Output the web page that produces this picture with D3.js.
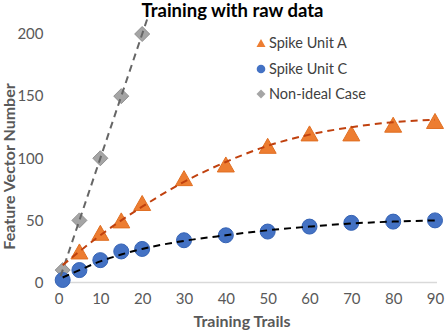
<!DOCTYPE html>
<html><head><meta charset="utf-8">
<script src="https://cdn.jsdelivr.net/npm/d3@7"></script>
<style>body{margin:0;background:#fff}svg text{font-family:Lato,"Open Sans",sans-serif}</style>
</head><body><svg id="c" width="447" height="333"></svg>
<script>
const xTicks = [0, 10, 20, 30, 40, 50, 60, 70, 80, 90];
const yTicks = [0, 50, 100, 150, 200];
const seriesNames = ["Spike Unit A", "Spike Unit C", "Non-ideal Case"];
const unitA_x = [5, 10, 15, 20, 30, 40, 50, 60, 70, 80, 90];
const unitA_y = [25, 40, 50, 64, 84, 95, 110, 120, 120, 127, 130];
const unitC_x = [1, 5, 10, 15, 20, 30, 40, 50, 60, 70, 80, 90];
const unitC_y = [2, 10, 18, 25, 27, 34, 38, 41, 45, 48, 49, 50];
const nonIdeal_x = [1, 5, 10, 15, 20];
const nonIdeal_y = [10, 50, 100, 150, 200];
// trendlines
const trendA_x = [1, 5, 10, 15, 20, 30, 40, 50, 60, 70, 80, 90];
const trendA_y = [14, 25, 38, 50, 61, 81, 97, 110, 119, 125, 129, 131];
const trendC_x = [1, 5, 10, 15, 20, 30, 40, 50, 60, 70, 80, 90];
const trendC_y = [4, 10, 17, 22.5, 27, 33.5, 38, 42, 45, 47.5, 49, 50];
const trendN_x = [0.5, 21.5];
const trendN_y = [5, 215];

const svg = d3.select("#c");
const x = d3.scaleLinear().domain([0, 90]).range([58.5, 435]);
const y = d3.scaleLinear().domain([0, 200]).range([282.5, 34]);
const zip = (a, b) => a.map((v, i) => [v, b[i]]);

// x axis
const xa = svg.append("g").attr("transform", "translate(0,282.5)")
  .call(d3.axisBottom(x).tickValues(xTicks).tickSize(0).tickPadding(11));
xa.select(".domain").attr("stroke", "#d9d9d9").attr("stroke-width", 1.5)
  .attr("d", `M${x(0) - 3},0H${x(90) + 2}`);
xa.selectAll("text").attr("fill", "#595959").attr("font-size", 15).style("font-family", "Lato");

const ya = svg.append("g").attr("transform", "translate(43.5,0)")
  .call(d3.axisLeft(y).tickValues(yTicks).tickSize(0).tickPadding(0));
ya.select(".domain").remove();
ya.selectAll("text").attr("fill", "#595959").attr("font-size", 15).style("font-family", "Lato");

// titles
svg.append("text").attr("x", 232.5).attr("y", 16.5).attr("text-anchor", "middle")
  .attr("font-size", 18.5).attr("font-weight", "bold").attr("fill", "#000").text("Training with raw data");
svg.append("text").attr("x", 242).attr("y", 327).attr("text-anchor", "middle")
  .attr("font-size", 16).attr("font-weight", "bold").attr("fill", "#595959").text("Training Trails");
svg.append("text").attr("transform", "translate(15,166.5) rotate(-90)").attr("text-anchor", "middle")
  .attr("font-size", 16).attr("font-weight", "bold").attr("fill", "#595959").text("Feature Vector Number");

const tri = (w, h) => `M0,${-h / 2}L${w / 2},${h / 2}L${-w / 2},${h / 2}Z`;
const dia = s => `M0,${-s}L${s},0L0,${s}L${-s},0Z`;

// markers
svg.append("g").selectAll("path").data(zip(nonIdeal_x, nonIdeal_y)).join("path")
  .attr("transform", d => `translate(${x(d[0])},${y(d[1])})`).attr("d", dia(7.5))
  .attr("fill", "#a5a5a5").attr("stroke", "#909090").attr("stroke-width", 1);
svg.append("g").selectAll("path").data(zip(unitA_x, unitA_y)).join("path")
  .attr("transform", d => `translate(${x(d[0])},${y(d[1])})`).attr("d", tri(17, 15))
  .attr("fill", "#ed7d31").attr("stroke", "#e06f22").attr("stroke-width", 1);
svg.append("g").selectAll("circle").data(zip(unitC_x, unitC_y)).join("circle")
  .attr("cx", d => x(d[0])).attr("cy", d => y(d[1])).attr("r", 7.5)
  .attr("fill", "#4472c4").attr("stroke", "#3563b5").attr("stroke-width", 1);

// trendlines
const line = d3.line().x(d => x(d[0])).y(d => y(d[1])).curve(d3.curveMonotoneX);
svg.append("path").datum(zip(trendN_x, trendN_y)).attr("d", line).attr("fill", "none")
  .attr("stroke", "#666").attr("stroke-width", 2).attr("stroke-dasharray", "7,5");
svg.append("path").datum(zip(trendA_x, trendA_y)).attr("d", line).attr("fill", "none")
  .attr("stroke", "#c0410e").attr("stroke-width", 2).attr("stroke-dasharray", "7,5");
svg.append("path").datum(zip(trendC_x, trendC_y)).attr("d", line).attr("fill", "none")
  .attr("stroke", "#000").attr("stroke-width", 2).attr("stroke-dasharray", "7,5");

// legend
const lg = svg.append("g");
const ly = [43, 69, 94];
lg.append("path").attr("transform", `translate(261,${ly[0]})`).attr("d", tri(9, 8)).attr("fill", "#ed7d31");
lg.append("circle").attr("cx", 261).attr("cy", ly[1]).attr("r", 4.3).attr("fill", "#4472c4");
lg.append("path").attr("transform", `translate(261,${ly[2]})`).attr("d", dia(4.5)).attr("fill", "#a5a5a5");
lg.selectAll("text").data(seriesNames).join("text")
  .attr("x", 269).attr("y", (d, i) => ly[i]).attr("dy", "0.35em")
  .attr("font-size", 14.5).attr("fill", "#404040").text(d => d);
</script></body></html>
